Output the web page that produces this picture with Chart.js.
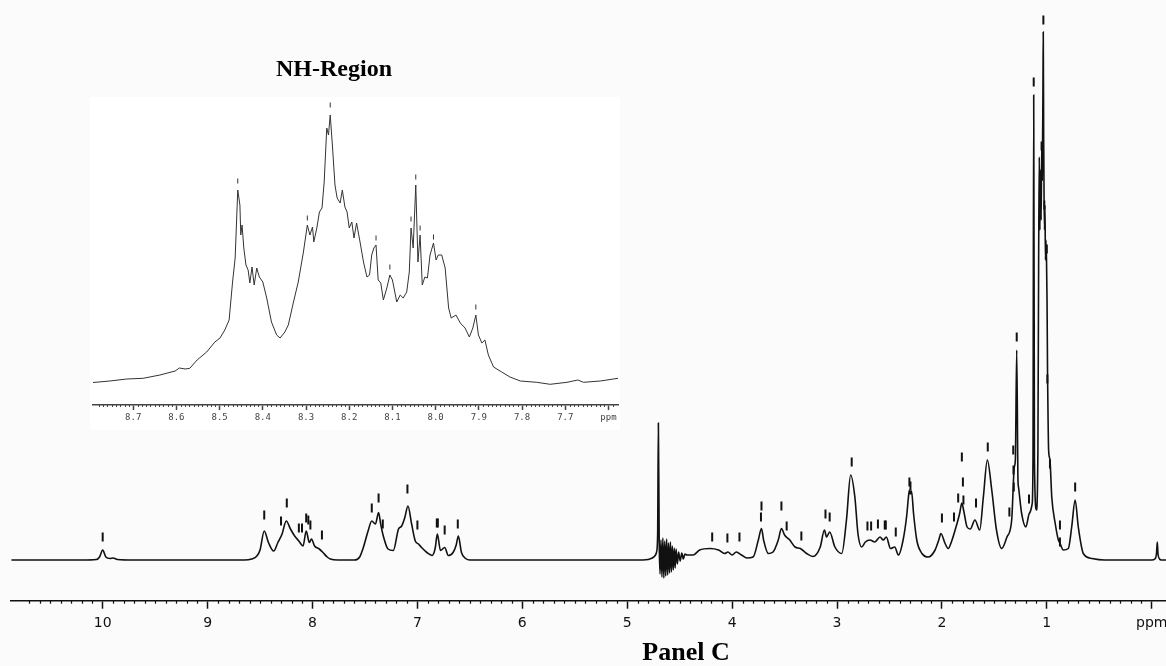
<!DOCTYPE html>
<html>
<head>
<meta charset="utf-8">
<title>1H NMR spectrum - Panel C</title>
<script src="https://cdn.jsdelivr.net/npm/chart.js@4.4.1/dist/chart.umd.min.js"></script>
<style>
  html, body { margin: 0; padding: 0; background: #fbfbfb; }
  #wrap { position: relative; width: 1166px; height: 666px; overflow: hidden; }
  #mainChart { position: absolute; left: 0; top: 0; }
  #insetBox { position: absolute; left: 90px; top: 97px; width: 530px; height: 333px; background: #fff; }
  #insetChart { position: absolute; left: 80px; top: 95px; }
  .caption { position: absolute; font-family: "Liberation Serif", "Times New Roman", serif; font-weight: bold; color: #000; white-space: nowrap; line-height: 1; transform: translate(-50%, -50%); }
  #nhTitle { left: 334px; top: 68px; font-size: 24px; }
  #panelTitle { left: 686px; top: 652px; font-size: 26px; }
</style>
</head>
<body>
<div id="wrap">
  <!-- canvas is a bit wider than the page so the axis runs to the right edge -->
  <canvas id="mainChart" width="1180" height="666"></canvas>
  <div id="insetBox"></div>
  <canvas id="insetChart" width="545" height="340"></canvas>
  <div class="caption" id="nhTitle">NH-Region</div>
  <div class="caption" id="panelTitle">Panel C</div>
</div>
<script>
// full spectrum: chemical shift (ppm) and intensity (arbitrary units)
const shiftPpm = [
  10.87, 10.20, 10.06, 10.03, 10.00, 9.97, 9.93, 9.90, 9.86, 9.70,
  8.65, 8.58, 8.53, 8.50, 8.46, 8.42, 8.37, 8.33, 8.29, 8.25,
  8.21, 8.17, 8.13, 8.09, 8.06, 8.03, 8.01, 7.98, 7.935, 7.90,
  7.86, 7.83, 7.76, 7.60, 7.55, 7.52, 7.47, 7.435, 7.40, 7.37,
  7.35, 7.325, 7.28, 7.23, 7.18, 7.15, 7.12, 7.09, 7.055, 7.02,
  6.99, 6.96, 6.91, 6.86, 6.83, 6.81, 6.78, 6.74, 6.705, 6.66,
  6.63, 6.61, 6.58, 6.54, 6.50, 4.85, 4.76, 4.73, 4.72, 4.71,
  4.703, 4.695, 4.687, 4.678, 4.669, 4.660, 4.651, 4.642, 4.633, 4.624,
  4.615, 4.606, 4.597, 4.588, 4.579, 4.570, 4.561, 4.552, 4.543, 4.534,
  4.522, 4.51, 4.495, 4.48, 4.465, 4.45, 4.43, 4.37, 4.31, 4.21,
  4.13, 4.07, 4.04, 4.00, 3.96, 3.91, 3.86, 3.80, 3.75, 3.72,
  3.70, 3.655, 3.61, 3.56, 3.53, 3.50, 3.45, 3.40, 3.35, 3.29,
  3.23, 3.16, 3.12, 3.10, 3.07, 3.02, 2.955, 2.91, 2.87, 2.83,
  2.80, 2.765, 2.73, 2.685, 2.64, 2.59, 2.56, 2.53, 2.49, 2.45,
  2.415, 2.37, 2.335, 2.32, 2.31, 2.30, 2.29, 2.27, 2.24, 2.19,
  2.13, 2.065, 2.03, 2.01, 1.97, 1.94, 1.91, 1.86, 1.83, 1.81,
  1.79, 1.76, 1.73, 1.685, 1.64, 1.605, 1.567, 1.525, 1.48, 1.43,
  1.38, 1.335, 1.31, 1.30, 1.287, 1.275, 1.27, 1.24, 1.20, 1.167,
  1.14, 1.132, 1.125, 1.118, 1.10, 1.085, 1.078, 1.072, 1.066, 1.060,
  1.054, 1.049, 1.044, 1.037, 1.034, 1.030, 1.026, 1.022, 1.018, 1.013,
  1.008, 1.003, 0.998, 0.993, 0.988, 0.983, 0.97, 0.953, 0.92, 0.89,
  0.875, 0.843, 0.795, 0.763, 0.73, 0.70, 0.652, 0.57, 0.45, 0.00,
  -0.03, -0.045, -0.053, -0.06, -0.075, -0.09, -0.136
];
const intensity = [
  0, 0, 0.5, 3, 10, 3, 1.5, 2, 0.5, 0,
  0, 1, 4, 10, 29, 17.5, 9, 17.5, 26, 39,
  31, 24, 19, 14, 29, 17.5, 21, 14, 11, 7.5,
  3, 1, 0, 0, 3, 11, 29, 39, 36, 47.5,
  36, 24, 11, 9.5, 31, 34, 42.5, 54, 36, 19,
  16, 12.5, 7.5, 4.5, 12, 26, 9.5, 12.5, 4.5, 7.5,
  15, 24, 7.5, 1.5, 0, 0, 2, 5, 8, 25,
  137, 18, -14, 20, -17, 22, -18, 19, -16, 21,
  -15, 17, -13, 18, -12, 14, -10, 12, -8, 11,
  -4, 8, -1, 7, 1, 6, 5, 5, 10, 11.5,
  10, 6.5, 8, 5, 8, 5, 2, 3, 20, 31.5,
  20, 6.5, 8, 20, 31.5, 25, 20, 13, 11.5, 6.5,
  3.5, 13, 30, 23, 28, 13, 6.5, 40, 85, 63,
  26, 13, 18, 20, 18, 23, 20, 23, 11.5, 13,
  5, 20, 45, 62, 70, 66, 69, 46, 20, 6.5,
  3, 10, 20, 26.5, 16.5, 11.5, 18, 35, 47, 57,
  48, 33, 31, 40, 30, 63, 100, 70, 30, 11.5,
  23, 40, 93, 100, 210, 80, 73, 46.5, 33, 46.5,
  56, 100, 465, 100, 50, 110, 300, 403, 330, 390,
  340, 414, 380, 470, 528, 420, 360, 330, 355, 300,
  320, 300, 260, 185, 140, 110, 100, 63, 36.5, 20,
  17, 10, 11.5, 33, 60, 33, 6.5, 1.5, 0, 0,
  1, 6, 18, 6, 1, 0, 0
];

// picked peak markers on the full spectrum
const peakPpm = [
  10.0, 8.46, 8.30, 8.245, 8.13, 8.10, 8.06, 8.04, 8.02, 7.91,
  7.435, 7.37, 7.33, 7.095, 7.00, 6.815, 6.805, 6.74, 6.615,
  4.19, 4.045, 3.93, 3.725, 3.72, 3.53, 3.48, 3.34, 3.11, 3.07,
  2.86, 2.71, 2.675, 2.61, 2.545, 2.535, 2.44, 2.31, 2.30,
  2.00, 1.885, 1.845, 1.81, 1.80, 1.795, 1.675, 1.563, 1.357,
  1.32, 1.318, 1.315, 1.287, 1.17, 1.125, 1.05, 1.033, 1.024,
  1.00, 0.995, 0.97, 0.875, 0.875, 0.73
];
const peakMark = [
  23, 45, 39, 57, 32, 32, 42, 40, 35, 25,
  52, 62, 36, 71, 35, 37, 37, 30, 36,
  23, 22, 23, 43, 54, 54, 34, 24, 46, 43,
  98, 34, 34, 36, 35, 35, 28, 78, 74,
  42, 43, 62, 103, 78, 60, 57, 113, 48,
  110, 90, 73, 223, 61, 478, 414, 540, 355,
  311, 181, 96, 35, 18, 73
];

// NH region expansion
const nhPpm = [
  8.793, 8.754, 8.715, 8.677, 8.638, 8.603, 8.593, 8.580, 8.569, 8.552,
  8.530, 8.511, 8.499, 8.488, 8.478, 8.470, 8.464, 8.458, 8.453, 8.451,
  8.448, 8.444, 8.439, 8.434, 8.430, 8.425, 8.420, 8.414, 8.408, 8.400,
  8.391, 8.380, 8.368, 8.360, 8.349, 8.341, 8.329, 8.318, 8.306, 8.297,
  8.291, 8.285, 8.282, 8.275, 8.269, 8.263, 8.258, 8.252, 8.248, 8.244,
  8.239, 8.233, 8.228, 8.221, 8.216, 8.210, 8.205, 8.200, 8.194, 8.189,
  8.183, 8.175, 8.167, 8.159, 8.153, 8.148, 8.143, 8.138, 8.133, 8.127,
  8.121, 8.113, 8.106, 8.100, 8.090, 8.082, 8.075, 8.067, 8.061, 8.057,
  8.052, 8.046, 8.041, 8.036, 8.031, 8.025, 8.019, 8.013, 8.005, 7.999,
  7.994, 7.986, 7.978, 7.970, 7.964, 7.953, 7.943, 7.932, 7.922, 7.914,
  7.907, 7.901, 7.893, 7.886, 7.878, 7.866, 7.847, 7.828, 7.804, 7.766,
  7.735, 7.696, 7.671, 7.658, 7.619, 7.578
];
const nhIntensity = [
  22.5, 24, 26, 26.7, 30, 34, 37, 36, 36.7, 45,
  53, 63, 67, 75, 85, 123, 147, 215, 200, 170,
  180, 157, 140, 135, 122, 138, 120, 137, 128, 123,
  107, 83, 70, 67, 73, 80, 103, 123, 153, 180,
  170, 178, 163, 177, 193, 197, 223, 277, 270, 290,
  260, 220, 207, 202, 215, 198, 193, 177, 183, 167,
  182, 163, 143, 128, 130, 150, 157, 160, 125, 122,
  105, 117, 130, 125, 103, 110, 107, 113, 133, 177,
  157, 220, 143, 170, 120, 128, 127, 150, 162, 145,
  150, 150, 137, 97, 87, 90, 82, 77, 68, 77,
  90, 70, 62, 65, 50, 38, 33, 28, 24, 22.7,
  20.7, 22.7, 25, 22.7, 24, 26.7
];
const nhPeakPpm = [8.458, 8.297, 8.244, 8.138, 8.106, 8.057, 8.046, 8.036, 8.005, 7.907];
const nhPeakMark = [224, 187, 300, 167, 138, 186, 228, 177, 168, 98];

function toPoints(xs, ys) {
  return xs.map((x, i) => ({ x: x, y: ys[i] }));
}

function onStep(v, step) {
  return Math.abs(v / step - Math.round(v / step)) < 1e-6;
}

// short ticks between the labelled ones
const minorTicks = {
  id: 'minorTicks',
  afterDraw(chart, args, opts) {
    const s = chart.scales.x;
    const ctx = chart.ctx;
    ctx.save();
    ctx.strokeStyle = opts.color;
    ctx.lineWidth = opts.width;
    s.ticks.forEach(t => {
      if (onStep(t.value, opts.major)) return;
      const px = Math.round(s.getPixelForValue(t.value)) + 0.5;
      ctx.beginPath();
      ctx.moveTo(px, s.top);
      ctx.lineTo(px, s.top + opts.length);
      ctx.stroke();
    });
    ctx.restore();
  }
};

// reversed ppm axis, lo/hi in ascending order
function ppmAxis(lo, hi, step, major, tickLen, pad, font, color, lastLabel) {
  return {
    type: 'linear',
    reverse: true,
    min: lo,
    max: hi,
    afterBuildTicks: (scale) => {
      scale.ticks = scale.ticks.filter(t => onStep(t.value, step));
    },
    border: { display: true, color: color, width: 1.5 },
    grid: {
      drawOnChartArea: false,
      drawTicks: true,
      tickLength: tickLen,
      tickWidth: 1.5,
      tickColor: (c) => (c.tick && onStep(c.tick.value, major)) ? color : 'rgba(0,0,0,0)'
    },
    ticks: {
      stepSize: step,
      autoSkip: false,
      maxRotation: 0,
      padding: pad,
      color: color,
      font: font,
      callback: (v) => {
        if (!onStep(v, major)) return '';
        if (Math.abs(v - lastLabel) < 1e-6) return 'ppm';
        return major < 1 ? v.toFixed(1) : String(Math.round(v));
      }
    }
  };
}

Chart.defaults.animation = false;

new Chart(document.getElementById('mainChart'), {
  type: 'line',
  data: {
    datasets: [
      {
        data: toPoints(shiftPpm, intensity),
        borderColor: '#111',
        borderWidth: 1.6,
        pointRadius: 0,
        cubicInterpolationMode: 'monotone',
        fill: false
      },
      {
        type: 'scatter',
        data: toPoints(peakPpm, peakMark),
        showLine: false,
        pointStyle: 'line',
        rotation: 90,
        pointRadius: 4.5,
        borderColor: '#111',
        borderWidth: 2,
        pointHoverRadius: 0
      }
    ]
  },
  options: {
    responsive: false,
    devicePixelRatio: 1,
    layout: { autoPadding: false, padding: { left: 11, right: 14, top: 0, bottom: 28.5 } },
    plugins: {
      legend: { display: false },
      tooltip: { enabled: false },
      minorTicks: { color: '#111', width: 1.2, length: 3, major: 1 }
    },
    scales: {
      x: ppmAxis(-0.136, 10.874, 0.1, 1, 8, 6, { family: 'DejaVu Sans', size: 14 }, '#111', 0),
      y: { display: false, min: -40.7, max: 560 }
    }
  },
  plugins: [minorTicks]
});

new Chart(document.getElementById('insetChart'), {
  type: 'line',
  data: {
    datasets: [
      {
        data: toPoints(nhPpm, nhIntensity),
        borderColor: '#333',
        borderWidth: 1,
        pointRadius: 0,
        tension: 0,
        fill: false
      },
      {
        type: 'scatter',
        data: toPoints(nhPeakPpm, nhPeakMark),
        showLine: false,
        pointStyle: 'line',
        rotation: 90,
        pointRadius: 2.5,
        borderColor: '#333',
        borderWidth: 1,
        pointHoverRadius: 0
      }
    ]
  },
  options: {
    responsive: false,
    devicePixelRatio: 1,
    layout: { autoPadding: false, padding: { left: 13, right: 7, top: 0, bottom: 10.2 } },
    plugins: {
      legend: { display: false },
      tooltip: { enabled: false },
      minorTicks: { color: '#444', width: 1, length: 2, major: 0.1 }
    },
    scales: {
      x: ppmAxis(7.578, 8.793, 0.01, 0.1, 5, 2, { family: 'DejaVu Sans Mono', size: 9 }, '#444', 7.6),
      y: { display: false, min: 0, max: 310 }
    }
  },
  plugins: [minorTicks]
});
</script>
</body>
</html>
